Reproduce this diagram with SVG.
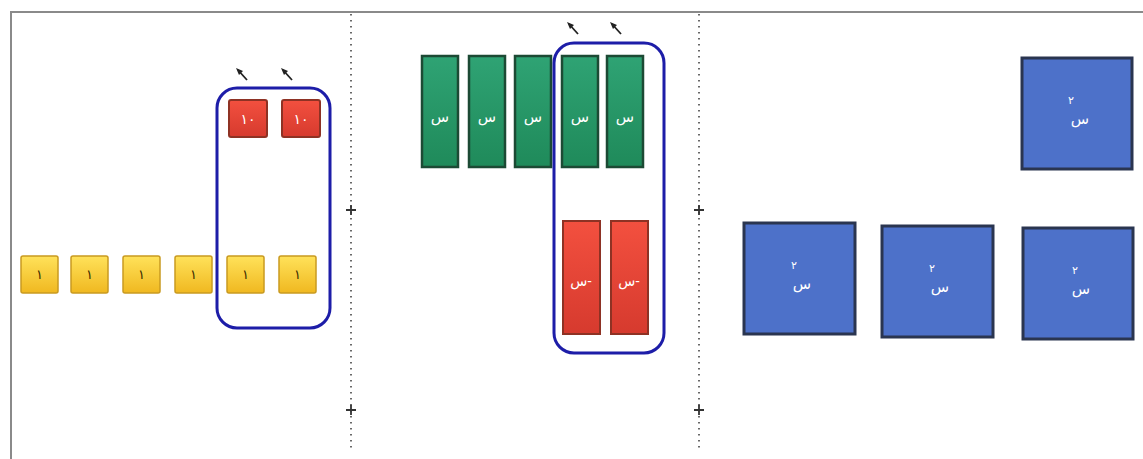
<svg xmlns="http://www.w3.org/2000/svg" width="1143" height="459" viewBox="0 0 1143 459">
  <style>
    .lbl { font-family: "Noto Sans", "DejaVu Sans", sans-serif; fill: #ffffff; text-anchor: middle; }
    .dlbl { font-family: "Noto Sans", "DejaVu Sans", sans-serif; fill: #3a2a00; text-anchor: middle; font-size: 13px; }
    .yel { fill: url(#gY); stroke: #c99a20; stroke-width: 1.5; }
    .red { fill: url(#gR); stroke: #8e3224; stroke-width: 2; }
    .grn { fill: url(#gG); stroke: #1c4a34; stroke-width: 2.5; }
    .blu { fill: #4d71c9; stroke: #2a3550; stroke-width: 3; }
    .grp { fill: none; stroke: #1d1da8; stroke-width: 3; }
    .div { stroke: #444; stroke-width: 1.6; stroke-dasharray: 1.5 4.5; }
    .plus { stroke: #333; stroke-width: 1.8; }
    .tick { stroke: #222; stroke-width: 1.8; fill: none; }
  </style>
  <defs>
    <linearGradient id="gY" x1="0" y1="0" x2="0" y2="1">
      <stop offset="0" stop-color="#ffe25a"/>
      <stop offset="1" stop-color="#f0b820"/>
    </linearGradient>
    <linearGradient id="gR" x1="0" y1="0" x2="0" y2="1">
      <stop offset="0" stop-color="#f3503f"/>
      <stop offset="1" stop-color="#d63a2e"/>
    </linearGradient>
    <linearGradient id="gG" x1="0" y1="0" x2="0" y2="1">
      <stop offset="0" stop-color="#2fa374"/>
      <stop offset="1" stop-color="#1f8a5a"/>
    </linearGradient>
  </defs>
  <rect width="1143" height="459" fill="#ffffff"/>
  <!-- frame -->
  <path d="M11 459 V12 H1143" fill="none" stroke="#8a8a8a" stroke-width="2"/>
  <!-- dividers -->
  <g id="dividers">
    <line class="div" x1="351" y1="14" x2="351" y2="452"/>
    <line class="div" x1="699" y1="14" x2="699" y2="452"/>
    <path class="plus" d="M346 210 H356 M351 205 V215 M346 410 H356 M351 405 V415"/>
    <path class="plus" d="M694 210 H704 M699 205 V215 M694 410 H704 M699 405 V415"/>
  </g>
  <!-- tick marks -->
  <g id="ticks">
    <g transform="translate(238,70)"><path class="tick" d="M0 0 L9 10"/><path d="M-2 -2 L5 1 L1 5 Z" fill="#222"/></g>
    <g transform="translate(283,70)"><path class="tick" d="M0 0 L9 10"/><path d="M-2 -2 L5 1 L1 5 Z" fill="#222"/></g>
    <g transform="translate(569,24)"><path class="tick" d="M0 0 L9 10"/><path d="M-2 -2 L5 1 L1 5 Z" fill="#222"/></g>
    <g transform="translate(612,24)"><path class="tick" d="M0 0 L9 10"/><path d="M-2 -2 L5 1 L1 5 Z" fill="#222"/></g>
  </g>
  <!-- left section -->
  <g id="tens">
    <g id="ten1"><rect class="red" x="229" y="100" width="38" height="37" rx="2"/><text class="lbl" x="248" y="124" font-size="14">١٠</text></g>
    <g id="ten2"><rect class="red" x="282" y="100" width="38" height="37" rx="2"/><text class="lbl" x="301" y="124" font-size="14">١٠</text></g>
  </g>
  <g id="ones">
    <g id="one1"><rect class="yel" x="21" y="256" width="37" height="37" rx="2"/><text class="dlbl" x="39.5" y="279">١</text></g>
    <g id="one2"><rect class="yel" x="71" y="256" width="37" height="37" rx="2"/><text class="dlbl" x="89.5" y="279">١</text></g>
    <g id="one3"><rect class="yel" x="123" y="256" width="37" height="37" rx="2"/><text class="dlbl" x="141.5" y="279">١</text></g>
    <g id="one4"><rect class="yel" x="175" y="256" width="37" height="37" rx="2"/><text class="dlbl" x="193.5" y="279">١</text></g>
    <g id="one5"><rect class="yel" x="227" y="256" width="37" height="37" rx="2"/><text class="dlbl" x="245.5" y="279">١</text></g>
    <g id="one6"><rect class="yel" x="279" y="256" width="37" height="37" rx="2"/><text class="dlbl" x="297.5" y="279">١</text></g>
  </g>
  <rect id="groupLeft" class="grp" x="217" y="88" width="113" height="240" rx="20"/>
  <!-- middle section -->
  <g id="xs">
    <g id="x1"><rect class="grn" x="422" y="56" width="36" height="111"/><text class="lbl" x="440" y="122" font-size="15">س</text></g>
    <g id="x2"><rect class="grn" x="469" y="56" width="36" height="111"/><text class="lbl" x="487" y="122" font-size="15">س</text></g>
    <g id="x3"><rect class="grn" x="515" y="56" width="36" height="111"/><text class="lbl" x="533" y="122" font-size="15">س</text></g>
    <g id="x4"><rect class="grn" x="562" y="56" width="36" height="111"/><text class="lbl" x="580" y="122" font-size="15">س</text></g>
    <g id="x5"><rect class="grn" x="607" y="56" width="36" height="111"/><text class="lbl" x="625" y="122" font-size="15">س</text></g>
  </g>
  <g id="negxs">
    <g id="nx1"><rect class="red" x="563" y="221" width="37" height="113"/><text class="lbl" x="581" y="286" font-size="14" direction="rtl">-س</text></g>
    <g id="nx2"><rect class="red" x="611" y="221" width="37" height="113"/><text class="lbl" x="629" y="286" font-size="14" direction="rtl">-س</text></g>
  </g>
  <rect id="groupMid" class="grp" x="554" y="43" width="110" height="310" rx="20"/>
  <!-- right section -->
  <g id="squares">
    <g id="sq1"><rect class="blu" x="1022" y="58" width="110" height="111"/><text class="lbl" x="1080" y="124" font-size="15">س</text><text class="lbl" x="1071" y="104" font-size="11">٢</text></g>
    <g id="sq2"><rect class="blu" x="744" y="223" width="111" height="111"/><text class="lbl" x="802" y="289" font-size="15">س</text><text class="lbl" x="794" y="269" font-size="11">٢</text></g>
    <g id="sq3"><rect class="blu" x="882" y="226" width="111" height="111"/><text class="lbl" x="940" y="292" font-size="15">س</text><text class="lbl" x="932" y="272" font-size="11">٢</text></g>
    <g id="sq4"><rect class="blu" x="1023" y="228" width="110" height="111"/><text class="lbl" x="1081" y="294" font-size="15">س</text><text class="lbl" x="1075" y="274" font-size="11">٢</text></g>
  </g>
</svg>
